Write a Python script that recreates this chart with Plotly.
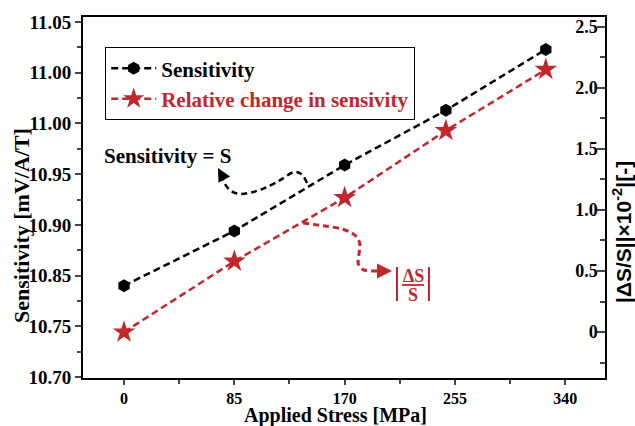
import plotly.graph_objects as go

# ---- data ----
stress = [0, 85, 170, 248, 325]
sensitivity = [10.790, 10.844, 10.909, 10.963, 11.023]
rel_change = [0.0, 0.58, 1.10, 1.65, 2.15]

x_ticks = [0, 85, 170, 255, 340]
y_ticks = [10.70, 10.75, 10.80, 10.85, 10.90, 10.95, 11.00, 11.05]
y_ticktext = ["10.70", "10.75", "10.85", "10.90", "10.95", "11.00", "11.00", "11.05"]
y2_ticks = [0, 0.5, 1.0, 1.5, 2.0, 2.5]
y2_ticktext = ["0", "0.5", "1.0", "1.5", "2.0", "2.5"]

RED = "#c1272d"
SERIF = "Liberation Serif"
W, H = 635, 426
L, R, T, B = 83, 30, 17, 48
PW, PH = W - L - R, H - T - B


def px(x):
    return (x - L) / PW


def py(y):
    return (H - B - y) / PH


def label(text, x, y, size, color="black", family=SERIF, angle=0):
    fig.add_annotation(text=text, xref="paper", yref="paper", x=px(x), y=py(y),
                       xanchor="center", yanchor="middle", showarrow=False,
                       textangle=angle, borderpad=0,
                       font=dict(family=family, size=size, color=color, weight="bold"))


fig = go.Figure()
fig.add_trace(go.Scatter(
    x=stress, y=sensitivity, name="Sensitivity", mode="lines+markers",
    line=dict(color="black", width=2.5, dash="7px,4px"),
    marker=dict(symbol="hexagon", size=13, color="black"),
))
fig.add_trace(go.Scatter(
    x=stress, y=rel_change, name=f"<span style='color:{RED}'>Relative change in sensivity</span>",
    mode="lines+markers", yaxis="y2",
    line=dict(color=RED, width=2.5, dash="7px,4px"),
    marker=dict(symbol="star", size=17, color=RED),
))

tickfont = dict(family=SERIF, size=18, color="black", weight="bold")

fig.update_layout(
    width=W, height=H,
    margin=dict(l=L, r=R, t=T, b=B),
    paper_bgcolor="white", plot_bgcolor="white",
    font=dict(family=SERIF, size=16, color="black", weight="bold"),
    showlegend=True,
    legend=dict(x=px(105), y=py(47), xanchor="left", yanchor="top",
                bordercolor="black", borderwidth=1.2, bgcolor="white",
                font=dict(family=SERIF, size=21, color="black", weight="bold"),
                tracegroupgap=0, itemwidth=45),
    xaxis=dict(range=[-31.6, 370.6], tickvals=x_ticks, ticks="outside", ticklen=5,
               tickwidth=1.5, showline=True, linecolor="black", linewidth=1.8,
               mirror=True, showgrid=False, zeroline=False,
               tickfont=dict(family=SERIF, size=16, color="black", weight="bold"),
               minor=dict(tickmode="linear", tick0=42.5, dtick=85, ticks="outside",
                          ticklen=4, tickwidth=1.5)),
    yaxis=dict(range=[10.699, 11.055], tickvals=y_ticks, ticktext=y_ticktext,
               ticks="outside", ticklen=6, tickwidth=1.5, showline=True,
               linecolor="black", linewidth=1.8, showgrid=False, zeroline=False,
               tickfont=dict(family=SERIF, size=19, color="black", weight="bold"),
               minor=dict(tickmode="linear", tick0=10.725, dtick=0.05,
                          ticks="outside", ticklen=4, tickwidth=1.5)),
    yaxis2=dict(range=[-0.376, 2.58], overlaying="y", side="right",
                tickvals=y2_ticks, ticktext=y2_ticktext, ticks="inside",
                ticklabelposition="inside", ticklen=8, tickwidth=1.5,
                showline=True, linecolor="black", linewidth=1.8, showgrid=False,
                zeroline=False, tickfont=tickfont,
                minor=dict(tickmode="linear", tick0=0.25, dtick=0.5,
                           ticks="inside", ticklen=5, tickwidth=1.5)),
)

# axis titles
label("Applied Stress [MPa]", 335, 416, 20)
label("Sensitivity [mV/A/T]", 21, 226, 22, angle=-90)
label("|ΔS/S||×10<sup>-2</sup>|[-]", 622, 232, 21, family="Liberation Sans", angle=-90)

# callouts
label("Sensitivity = S", 168, 156, 21)

black_path = "M {} Q {} {} Q {} {} Q {} {}".format(
    f"{px(307)},{py(183)}", f"{px(300)},{py(166)}", f"{px(288)},{py(175)}",
    f"{px(262)},{py(193)}", f"{px(240)},{py(194)}",
    f"{px(228)},{py(193)}", f"{px(223)},{py(180)}")
fig.add_shape(type="path", path=black_path, xref="paper", yref="paper",
              line=dict(color="black", width=2.5, dash="6px,4px"))
fig.add_annotation(x=px(218), y=py(168), ax=7, ay=13, xref="paper", yref="paper",
                   text="", showarrow=True, arrowhead=2, arrowsize=1.2,
                   arrowwidth=2.2, arrowcolor="black")

red_path = "M {} Q {} {} Q {} {} L {} Q {} {} L {}".format(
    f"{px(303)},{py(223)}", f"{px(318)},{py(225)}", f"{px(332)},{py(227)}",
    f"{px(360)},{py(231)}", f"{px(360)},{py(246)}",
    f"{px(358)},{py(262)}",
    f"{px(359)},{py(271)}", f"{px(370)},{py(271)}",
    f"{px(382)},{py(271)}")
fig.add_shape(type="path", path=red_path, xref="paper", yref="paper",
              line=dict(color=RED, width=3, dash="6px,4px"))
fig.add_annotation(x=px(392), y=py(271), ax=-12, ay=0, xref="paper", yref="paper",
                   text="", showarrow=True, arrowhead=2, arrowsize=1.2,
                   arrowwidth=2.5, arrowcolor=RED)

# |ΔS / S| fraction
label("ΔS", 413, 276, 18, color=RED)
label("S", 413, 295, 18, color=RED)
fig.add_shape(type="line", xref="paper", yref="paper", x0=px(402), x1=px(424),
              y0=py(285), y1=py(285), line=dict(color=RED, width=1.8))
for bx in (397, 429):
    fig.add_shape(type="line", xref="paper", yref="paper", x0=px(bx), x1=px(bx),
                  y0=py(267), y1=py(301), line=dict(color=RED, width=2))

fig.write_html("out.html")
